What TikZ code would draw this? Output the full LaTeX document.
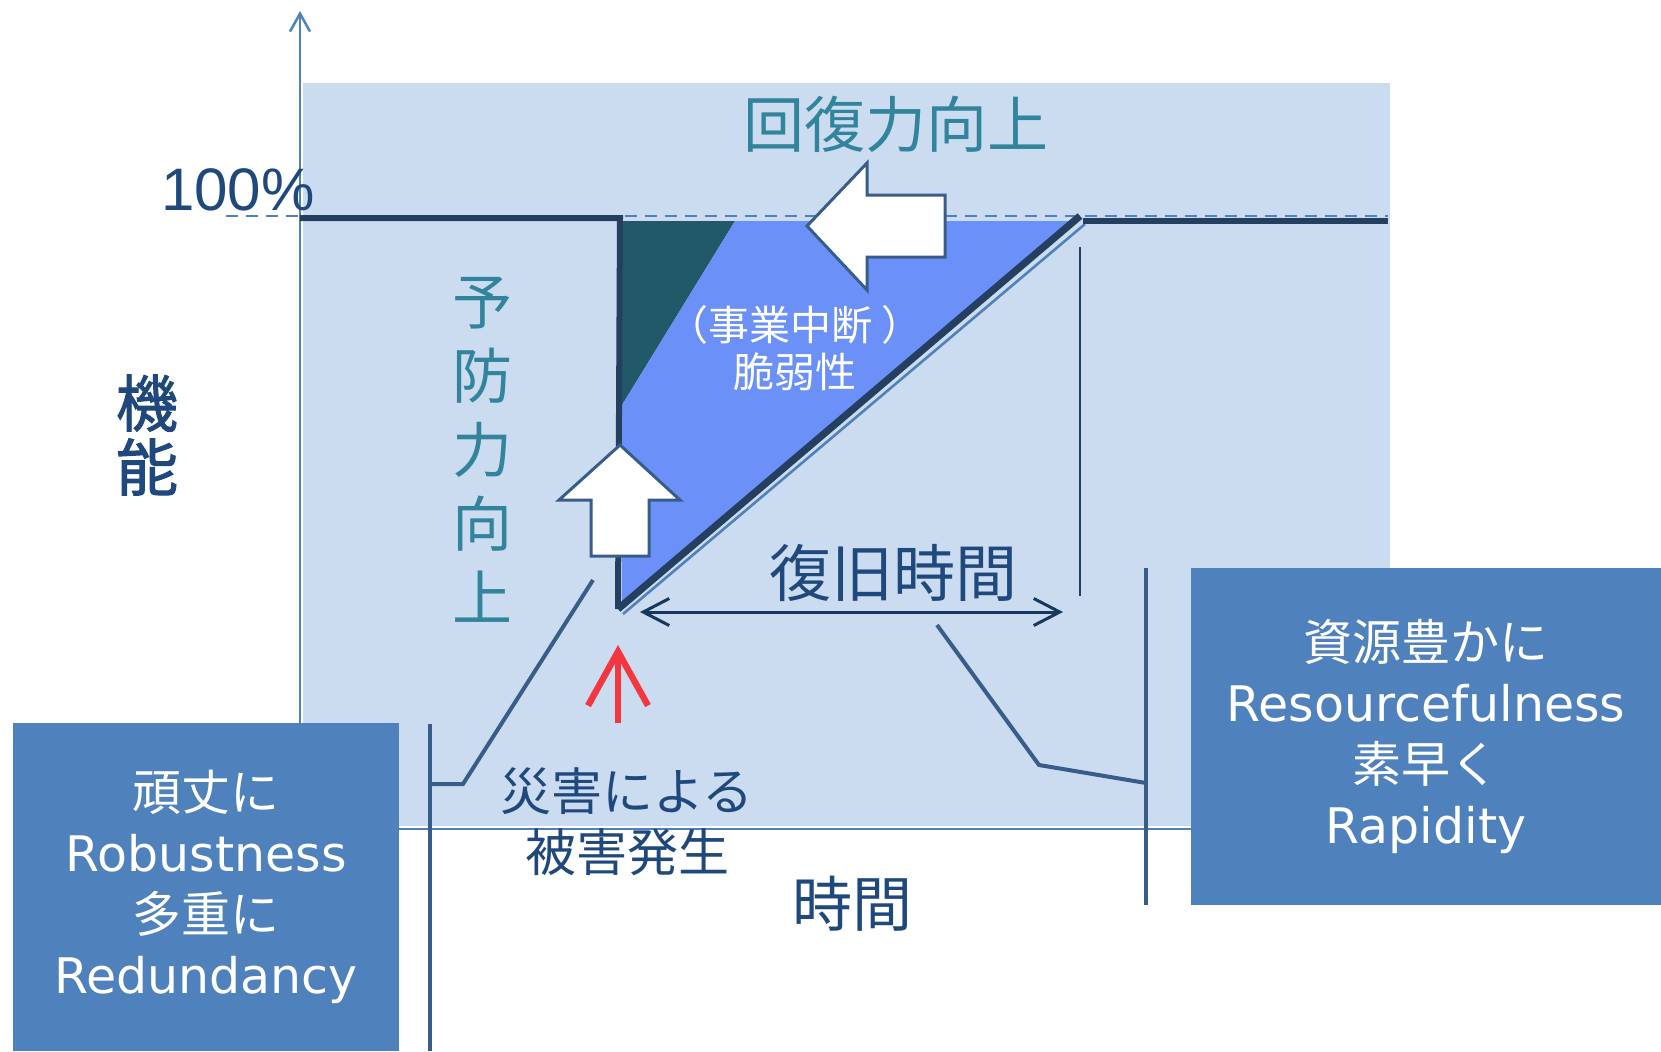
\documentclass[tikz,border=0pt]{standalone}
\usepackage{fontspec}
\usetikzlibrary{arrows.meta}
\newfontfamily\jp{Noto Sans CJK JP}
\newfontfamily\jpbold[FakeBold=1.6]{Noto Sans CJK JP}
\newfontfamily\latn{DejaVu Sans}
\newfontfamily\arl{Liberation Sans}
\definecolor{bgblue}{HTML}{CCDCF0}
\definecolor{axisblue}{HTML}{4F81BD}
\definecolor{curvenavy}{HTML}{243F60}
\definecolor{tealfill}{HTML}{215968}
\definecolor{vulnblue}{HTML}{6B91F8}
\definecolor{textnavy}{HTML}{1F497D}
\definecolor{textteal}{HTML}{31849B}
\definecolor{outlineblue}{HTML}{385D8A}
\definecolor{dblnavy}{HTML}{17375E}
\definecolor{alertred}{HTML}{F4363E}
\definecolor{boxblue}{HTML}{4F81BD}
\tikzset{
  lbl/.style={inner sep=0pt, outer sep=0pt, align=center},
  leader/.style={draw=outlineblue, line width=2pt},
  blockarrow/.style={fill=white, draw=outlineblue, line width=1.5pt, line join=miter},
  infobox/.style={fill=boxblue, inner sep=0pt, text=white, align=center,
    font=\fontsize{24.5pt}{30.5pt}\selectfont},
}
\begin{document}
\begin{tikzpicture}[x=0.5pt,y=-0.5pt]
\useasboundingbox (0,0) rectangle (1661,1051);
% background panel
\fill[bgblue] (303,83) rectangle (1390,826);
% axes
\coordinate (origin) at (300,829);
\coordinate (ytop) at (300,11);
\coordinate (xend) at (1191,829);
\draw[axisblue, line width=1.25pt, -{Straight Barb[length=9pt,width=10pt]}] (origin) -- (ytop);
\draw[axisblue, line width=1.25pt] (origin) -- (xend);
% 100% dashed references
\coordinate (dL1) at (226,216);
\coordinate (dL2) at (300,216);
\coordinate (dR1) at (625,216);
\coordinate (dR2) at (1388,216);
\draw[axisblue, line width=1.2pt, dash pattern=on 6pt off 4pt] (dL1) -- (dL2);
\draw[axisblue, line width=1.2pt, dash pattern=on 6pt off 4pt] (dR1) -- (dR2);
% filled regions
\fill[tealfill] (622,221) -- (735,221) -- (622,405) -- cycle;
\fill[vulnblue] (735,221) -- (1078,221) -- (622,606) -- (622,405) -- cycle;
% curve
\coordinate (c0) at (300,218);
\coordinate (c1) at (620,218);
\coordinate (c2) at (618,609);
\coordinate (c3) at (1080,216);
\coordinate (c4) at (1083,221);
\coordinate (c5) at (1388,221);
\draw[axisblue, line width=1.3pt] (623,614) -- (1085,224);
\draw[curvenavy, line width=3pt, line join=miter] (c0) -- (c1) -- (c2);
\draw[curvenavy, line width=3.6pt] (c2) -- (c3);
\draw[curvenavy, line width=3pt] (c4) -- (c5);
% recovery end marker
\coordinate (v1) at (1080,247);
\coordinate (v2) at (1080,596);
\draw[curvenavy, line width=1pt] (v1) -- (v2);
% recovery time arrow
\coordinate (r1) at (640,612);
\coordinate (r2) at (1063,612);
\draw[dblnavy, line width=1.5pt, {Straight Barb[length=13pt,width=13.5pt]}-{Straight Barb[length=13pt,width=13.5pt]}] (r1) -- (r2);
% block arrows
\draw[blockarrow] (620,445) -- (680,500) -- (649,500) -- (649,556) -- (591,556) -- (591,500) -- (559,500) -- cycle;
\draw[blockarrow] (807,226) -- (867,163) -- (867,195) -- (945,195) -- (945,257) -- (867,257) -- (867,290) -- cycle;
% disaster arrow
\coordinate (red0) at (618,723);
\coordinate (red1) at (618,645);
\draw[alertred, line width=3.2pt, -{Straight Barb[length=27pt,width=30pt]}] (red0) -- (red1);
% leader lines
\coordinate (la) at (593,580);
\coordinate (lb) at (463,784);
\coordinate (lc) at (430,784);
\coordinate (ltop) at (430,724);
\coordinate (lbot) at (430,1051);
\draw[leader] (la) -- (lb) -- (lc);
\draw[leader] (ltop) -- (lbot);
\coordinate (ra) at (937,625);
\coordinate (rb) at (1039,765);
\coordinate (rc) at (1146,783);
\coordinate (rtop) at (1146,568);
\coordinate (rbot) at (1146,905);
\draw[leader] (ra) -- (rb) -- (rc);
\draw[leader] (rtop) -- (rbot);
% labels
\node[lbl, text=textnavy, font=\arl\fontsize{30pt}{36pt}\selectfont] (pct) at (238,190) {100\%};
\node[lbl, text=textnavy, font=\jpbold\fontsize{31pt}{32pt}\selectfont] (kinou) at (147,435) {機\\能};
\node[lbl, text=textteal, font=\jp\fontsize{30pt}{37pt}\selectfont] (yobou) at (482,450) {予\\防\\力\\向\\上};
\node[lbl, text=textteal, font=\jp\fontsize{30.5pt}{36pt}\selectfont] (kaifuku) at (896,124) {回復力向上};
\node[lbl, text=white, font=\jp\fontsize{20.5pt}{23.5pt}\selectfont] (zeijaku) at (795,348) {（事業中断 ）\\脆弱性};
\node[lbl, text=textnavy, font=\jp\fontsize{31pt}{36pt}\selectfont] (fukkyu) at (893,573) {復旧時間};
\node[lbl, text=textnavy, font=\jp\fontsize{25.5pt}{30.5pt}\selectfont] (saigai) at (627,822) {災害による\\被害発生};
\node[lbl, text=textnavy, font=\jp\fontsize{30pt}{36pt}\selectfont] (jikan) at (852,904) {時間};
% boxes
\node[infobox, minimum width=193pt, minimum height=164pt] (lbox) at (206,887)
  {{\jp 頑丈に}\\{\latn Robustness}\\{\jp 多重に}\\{\latn Redundancy}};
\node[infobox, minimum width=235pt, minimum height=168.5pt] (rbox) at (1426,736.5)
  {{\jp 資源豊かに}\\{\latn Resourcefulness}\\{\jp 素早く}\\{\latn Rapidity}};
\end{tikzpicture}
\end{document}
